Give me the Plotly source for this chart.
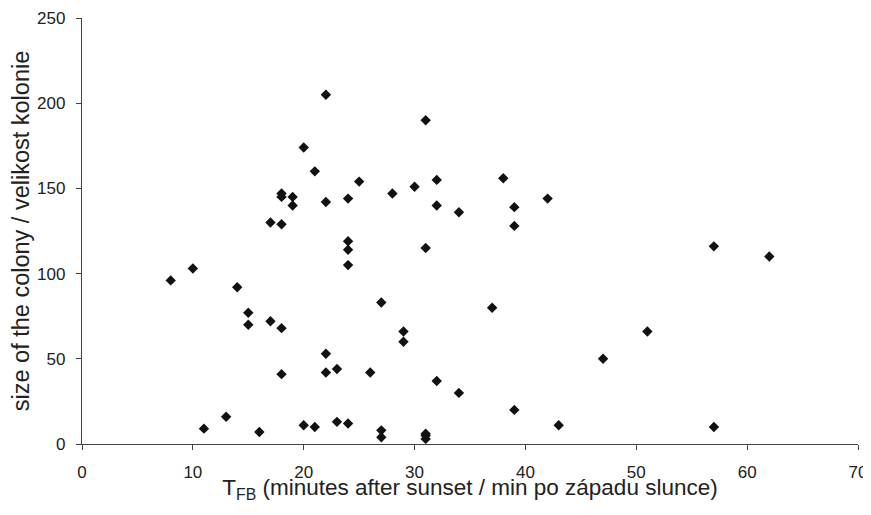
import plotly.graph_objects as go

minutes = [22, 31, 20, 21, 25, 18, 18, 19, 19, 22, 24, 17, 18, 24, 24, 24,
           28, 30, 32, 32, 34, 38, 39, 39, 42, 31,
           8, 10, 14, 15, 15, 17, 18, 18, 22, 22, 23, 26,
           11, 13, 16, 20, 21, 23, 24,
           27, 29, 29, 37, 32, 34, 39, 43, 27, 27, 31, 31, 31,
           57, 62, 51, 47, 57]
colony = [205, 190, 174, 160, 154, 147, 145, 145, 140, 142, 144, 130, 129, 119, 114, 105,
          147, 151, 155, 140, 136, 156, 139, 128, 144, 115,
          96, 103, 92, 77, 70, 72, 68, 41, 53, 42, 44, 42,
          9, 16, 7, 11, 10, 13, 12,
          83, 66, 60, 80, 37, 30, 20, 11, 8, 4, 6, 5, 3,
          116, 110, 66, 50, 10]

x_ticks = [0, 10, 20, 30, 40, 50, 60, 70]
y_ticks = [0, 50, 100, 150, 200, 250]

FONT = "Liberation Sans, Arial, Helvetica, sans-serif"

fig = go.Figure(go.Scatter(
    x=minutes, y=colony, mode="markers", cliponaxis=False,
    marker=dict(symbol="diamond", size=8, color="#111111", line=dict(width=0)),
))

axis_common = dict(
    showgrid=False, zeroline=False, showline=True, linecolor="#444444", linewidth=1.3,
    ticks="outside", ticklen=5, tickcolor="#444444", tickwidth=1.3,
    tickfont=dict(family=FONT, size=17, color="#222222"),
    automargin=False, ticklabeloverflow="allow",
)

# page body has an 8px margin, so the figure is shifted by 8px right and down
fig.update_layout(
    width=863, height=495,
    margin=dict(l=74, r=13, t=10, b=59),
    paper_bgcolor="white", plot_bgcolor="white",
    showlegend=False,
    font=dict(family=FONT, color="#222222"),
    xaxis=dict(range=[0, 70], tickvals=x_ticks, ticklabelstandoff=7, **axis_common,
               title=dict(text="T<sub>FB</sub> (minutes after sunset / min po západu slunce)",
                          font=dict(family=FONT, size=22.5), standoff=5)),
    yaxis=dict(range=[0, 250], tickvals=y_ticks, ticklabelstandoff=7, **axis_common,
               title=dict(text="size of the colony / velikost kolonie",
                          font=dict(family=FONT, size=23.5), standoff=15)),
)

fig.write_html("out.html")
